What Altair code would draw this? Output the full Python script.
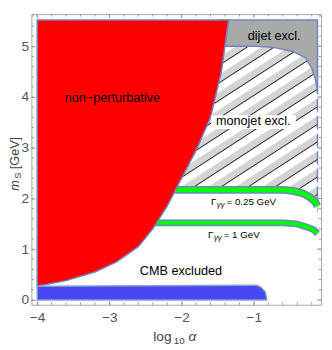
import altair as alt
import numpy as np
import pandas as pd

# ---------------- values ----------------
# non-perturbative boundary (log10 alpha, m_S)
np_x = [-4.0, -3.6, -3.2, -2.9, -2.6, -2.4, -2.2, -2.0, -1.8, -1.6, -1.45, -1.35]
np_y = [0.27, 0.38, 0.55, 0.75, 1.05, 1.40, 1.85, 2.40, 2.95, 3.60, 4.50, 5.52]
top_y = 5.52
# dijet exclusion lower boundary
dijet_x = [-1.48, -1.0, -0.73, -0.46, -0.28, -0.19, -0.14, -0.12]
dijet_y = [5.0, 5.0, 4.98, 4.90, 4.77, 4.54, 4.30, 4.10]
# monojet exclusion extent
mono_x = [-2.3, -0.12]
mono_y = [1.75, 5.05]
# Gamma_gg = 0.25 GeV band
g025_x = [-2.3, -0.59, -0.46, -0.32, -0.22, -0.15, -0.12]
g025_y = [2.17, 2.17, 2.15, 2.10, 2.02, 1.93, 1.85]
# Gamma_gg = 1 GeV band
g1_x = [-2.5, -0.59, -0.41, -0.27, -0.17, -0.12]
g1_y = [1.52, 1.52, 1.50, 1.44, 1.38, 1.31]
# CMB excluded band upper edge
cmb_x = [-4.0, -1.0, -0.96, -0.90, -0.84, -0.82]
cmb_y = [0.27, 0.29, 0.29, 0.25, 0.15, 0.0]

x_ticks = [-4, -3, -2, -1]
y_ticks = [0, 1, 2, 3, 4, 5]
x_minor = [-4.0, -3.8, -3.6, -3.4, -3.2, -3.0, -2.8, -2.6, -2.4, -2.2, -2.0,
           -1.8, -1.6, -1.4, -1.2, -1.0, -0.8, -0.6, -0.4, -0.2]
y_minor = [0.0, 0.2, 0.4, 0.6, 0.8, 1.0, 1.2, 1.4, 1.6, 1.8, 2.0, 2.2, 2.4, 2.6,
           2.8, 3.0, 3.2, 3.4, 3.6, 3.8, 4.0, 4.2, 4.4, 4.6, 4.8, 5.0, 5.2, 5.4, 5.6]

X_DOM = [-4.08, -0.07]
Y_DOM = [-0.096, 5.635]
W, H = 297, 298

FONT = "Liberation Sans"
OUTLINE = "#6f86c0"
TICK = "#9a9a9a"

xs = alt.Scale(domain=X_DOM, nice=False, zero=False)
ys = alt.Scale(domain=Y_DOM, nice=False, zero=False)
xax = alt.Axis(values=x_ticks, title=None, grid=False, domain=False, tickSize=4,
               offset=-4, labelPadding=6, labelFontSize=14, labelColor="#555555",
               tickColor=TICK, labelFont=FONT)
yax = alt.Axis(values=y_ticks, title=None, grid=False, domain=False, tickSize=4,
               offset=-4, labelPadding=3, labelFontSize=14, labelColor="#555555",
               tickColor=TICK, labelFont=FONT)


def X(f):
    return alt.X(f, type="quantitative", scale=xs, axis=xax)


def Y(f):
    return alt.Y(f, type="quantitative", scale=ys, axis=yax)


# ---------------- tables ----------------
df_np = pd.DataFrame({"x": np_x, "y": np_y, "top": top_y})
df_dj = pd.DataFrame({"x": dijet_x, "y": dijet_y, "top": top_y})
df_mono = pd.DataFrame({"x": [mono_x[0]], "x2": [mono_x[1]], "y": [mono_y[0]], "y2": [mono_y[1]]})
df_g025 = pd.DataFrame({"x": g025_x, "y": g025_y, "low": 1.68})
df_g1 = pd.DataFrame({"x": g1_x, "y": g1_y})
df_cmb = pd.DataFrame({"x": cmb_x, "y": cmb_y, "low": 0.0})
df_xt = pd.DataFrame({"v": x_ticks})
df_yt = pd.DataFrame({"v": y_ticks})
df_xm = pd.DataFrame({"v": x_minor})
df_ym = pd.DataFrame({"v": y_minor})

# hatch pattern inside the monojet box (decoration)
slope = 0.924
step = 0.346
segs, wsegs = [], []
for c in np.arange(-3.0, 8.0, step):
    for cc, store in ((c, segs), (c - 0.3 * step, wsegs)):
        xlo = max(mono_x[0], (mono_y[0] - cc) / slope)
        xhi = min(mono_x[1], (mono_y[1] - cc) / slope)
        if xlo < xhi:
            store.append({"x": xlo, "y": slope * xlo + cc, "x2": xhi, "y2": slope * xhi + cc})
df_h = pd.DataFrame(segs)
df_w = pd.DataFrame(wsegs)

base_rect = alt.Chart(df_mono).mark_rect(fill="#d4d4d4", stroke=OUTLINE, strokeWidth=1.5).encode(
    x=X("x"), x2="x2", y=Y("y"), y2="y2")
white_stripes = alt.Chart(df_w).mark_rule(color="white", strokeWidth=7).encode(
    x=X("x"), y=Y("y"), x2="x2", y2="y2")
black_lines = alt.Chart(df_h).mark_rule(color="#222222", strokeWidth=1).encode(
    x=X("x"), y=Y("y"), x2="x2", y2="y2")
white_cover = alt.Chart(df_g025).mark_area(color="white").encode(
    x=X("x"), y=Y("y"), y2="low")

dijet = alt.Chart(df_dj).mark_area(fill="#a9a9a9", stroke=OUTLINE, strokeWidth=1.5).encode(
    x=X("x"), y=Y("y"), y2="top")


def band(df, w_out, w_in):
    o = alt.Chart(df).mark_line(color=OUTLINE, strokeWidth=w_out, strokeCap="butt").encode(
        x=X("x"), y=Y("y"))
    i = alt.Chart(df).mark_line(color="#00ff00", strokeWidth=w_in, strokeCap="butt").encode(
        x=X("x"), y=Y("y"))
    return o + i


band025 = band(df_g025, 8, 5)
band1 = band(df_g1, 7, 4)

red = alt.Chart(df_np).mark_area(fill="#ff0000", stroke=OUTLINE, strokeWidth=1.5).encode(
    x=X("x"), y=Y("y"), y2="top")
cmb = alt.Chart(df_cmb).mark_area(fill="#4848f2", stroke="#86a0d0", strokeWidth=1.5).encode(
    x=X("x"), y=Y("y"), y2="low")

# label box behind "monojet excl."
df_box = pd.DataFrame({"x": [-1.59], "x2": [-0.42], "y": [3.37], "y2": [3.64]})
box = alt.Chart(df_box).mark_rect(fill="white").encode(x=X("x"), x2="x2", y=Y("y"), y2="y2")

labels = pd.DataFrame({
    "x": [-2.96, -1.01, -0.72, -2.01],
    "y": [3.98, 3.52, 5.21, 0.56],
    "t": ["non\u2212perturbative", "monojet excl.", "dijet excl.", "CMB excluded"],
})
txt = alt.Chart(labels).mark_text(font=FONT, fontSize=13, color="black").encode(
    x=X("x"), y=Y("y"), text="t:N")

gam = pd.DataFrame({"x": [-1.595, -1.635], "y": [1.92, 1.27],
                    "rest": ["= 0.25 GeV", "= 1 GeV"]})
g_big = alt.Chart(gam).mark_text(font=FONT, fontSize=10, align="left", color="black").encode(
    x=X("x"), y=Y("y"), text=alt.value("\u0393"))
g_sub = alt.Chart(gam).mark_text(font=FONT, fontSize=8, fontStyle="italic", align="left",
                                 dx=6, dy=3, color="black").encode(
    x=X("x"), y=Y("y"), text=alt.value("\u03b3\u03b3"))
g_rest = alt.Chart(gam).mark_text(font=FONT, fontSize=10, align="left", dx=16,
                                  color="black").encode(x=X("x"), y=Y("y"), text="rest:N")


# frame ticks (minor everywhere, major on top/right)
def xticks(df, length, top):
    y0 = 0 if top else H
    y1 = length if top else H - length
    return alt.Chart(df).mark_rule(color=TICK, strokeWidth=1).encode(
        x=X("v"), y=alt.value(y0), y2=alt.value(y1))


def yticks(df, length, right):
    x0 = W if right else 0
    x1 = W - length if right else length
    return alt.Chart(df).mark_rule(color=TICK, strokeWidth=1).encode(
        y=Y("v"), x=alt.value(x0), x2=alt.value(x1))


ticks = (xticks(df_xm, 2.5, False) + xticks(df_xm, 2.5, True) + xticks(df_xt, 4, True)
         + yticks(df_ym, 2.5, False) + yticks(df_ym, 2.5, True) + yticks(df_yt, 4, True))

# axis titles (pixel positions relative to plot area)
one = pd.DataFrame({"a": [0]})


def ptext(t, px, py, size=14, italic=False, angle=0, color="#444444"):
    kw = dict(font=FONT, fontSize=size, align="left", baseline="middle", color=color)
    if italic:
        kw["fontStyle"] = "italic"
    if angle:
        kw["angle"] = angle
    return alt.Chart(one).mark_text(**kw).encode(x=alt.value(px), y=alt.value(py), text=alt.value(t))


ytitle = (ptext("m", -17, 181, size=13, italic=True, angle=270)
          + ptext("S", -14, 169, size=10, angle=270)
          + ptext("[GeV]", -17, 159, size=13, angle=270))
xtitle = (ptext("log", 125, 331)
          + ptext("10", 146, 335, size=10)
          + ptext("\u03b1", 161, 331, italic=True))

chart = alt.layer(
    base_rect, white_stripes, black_lines, white_cover, dijet,
    band025, band1, red, cmb, box, txt, g_big, g_sub, g_rest, ticks, ytitle, xtitle
).properties(
    width=W, height=H,
    padding={"left": 24, "top": 2, "right": 3, "bottom": 40},
    autosize=alt.AutoSizeParams(type="none"),
).configure_view(stroke="#a6a6a6", strokeWidth=1)

chart.save("out.html", embed_options={"renderer": "svg", "actions": False})
